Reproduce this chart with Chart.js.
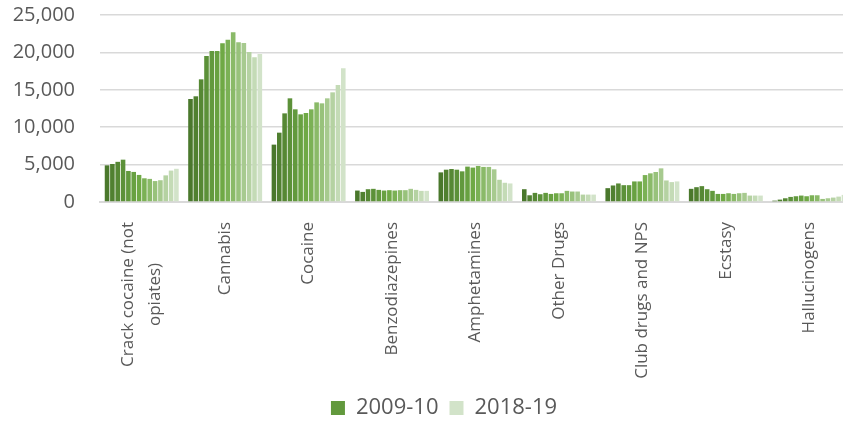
<!DOCTYPE html>
<html>
<head>
<meta charset="utf-8">
<script src="https://cdn.jsdelivr.net/npm/chart.js@4/dist/chart.umd.min.js"></script>
<style>
  html, body { margin: 0; padding: 0; background: #fff; overflow: hidden; }
  #wrap { width: 888px; height: 421px; }
</style>
</head>
<body>
<div id="wrap"><canvas id="drugs_chart"></canvas></div>
<script>
// categories along the x axis
const categories = [
  ["Crack cocaine (not", "opiates)"],
  "Cannabis",
  "Cocaine",
  "Benzodiazepines",
  "Amphetamines",
  "Other Drugs",
  "Club drugs and NPS",
  "Ecstasy",
  "Hallucinogens",
];

// one bar per year inside each category
const years = [
  "2005-06", "2006-07", "2007-08", "2008-09", "2009-10", "2010-11", "2011-12",
  "2012-13", "2013-14", "2014-15", "2015-16", "2016-17", "2017-18", "2018-19",
];

// values per category, in year order
const crackCocaine = [4900, 5080, 5370, 5660, 4150, 4020, 3620, 3170, 3090, 2800, 2910, 3560, 4200, 4440];
const cannabis = [13770, 14130, 16400, 19520, 20190, 20190, 21210, 21700, 22680, 21350, 21260, 20050, 19340, 19790];
const cocaine = [7670, 9270, 11850, 13860, 12390, 11720, 11900, 12390, 13320, 13190, 13860, 14660, 15640, 17870];
const benzodiazepines = [1530, 1350, 1710, 1760, 1620, 1530, 1580, 1530, 1580, 1580, 1760, 1620, 1490, 1490];
const amphetamines = [3960, 4320, 4410, 4320, 4100, 4730, 4600, 4820, 4690, 4690, 4370, 2970, 2570, 2480];
const otherDrugs = [1710, 900, 1220, 1040, 1220, 1080, 1170, 1170, 1490, 1400, 1400, 990, 990, 990];
const clubDrugs = [1850, 2210, 2480, 2250, 2250, 2750, 2750, 3600, 3830, 4010, 4500, 2880, 2660, 2750];
const ecstasy = [1760, 1980, 2120, 1710, 1490, 1080, 1080, 1170, 1080, 1170, 1220, 860, 860, 860];
const hallucinogens = [180, 320, 500, 680, 770, 860, 770, 900, 900, 410, 500, 590, 720, 950];

const byCategory = [crackCocaine, cannabis, cocaine, benzodiazepines, amphetamines,
  otherDrugs, clubDrugs, ecstasy, hallucinogens];

// y axis ticks
const yTicks = [0, 5000, 10000, 15000, 20000, 25000];

// only these show up in the legend
const legendYears = ["2009-10", "2018-19"];

// green shades, dark -> bright -> pale
const shade = (i, n) => {
  const dark = [74, 120, 44], mid = [112, 171, 70], pale = [210, 227, 201];
  const t = i / (n - 1);
  let a, b, f;
  if (t < 0.48) { a = dark; b = mid; f = t / 0.48; }
  else { a = mid; b = pale; f = (t - 0.48) / 0.52; }
  const c = a.map((v, k) => Math.round(v + (b[k] - v) * f));
  return "rgb(" + c.join(",") + ")";
};

const datasets = years.map((yr, i) => ({
  label: yr,
  data: byCategory.map((vals) => vals[i]),
  backgroundColor: shade(i, years.length),
  borderWidth: 0,
  categoryPercentage: 0.895,
  barPercentage: 0.86,
}));

// two-line labels: centre the lines on the category and on each other
const centreMultiLine = {
  id: "centreMultiLine",
  beforeDraw(chart) {
    const ctx = chart.ctx;
    chart.scales.x.getLabelItems().forEach((item) => {
      if (Array.isArray(item.label) && !item.shifted) {
        ctx.save();
        ctx.font = item.font.string;
        const w = Math.max(...item.label.map((l) => ctx.measureText(l).width));
        ctx.restore();
        item.options.translation[0] -= (item.label.length - 1) * item.font.lineHeight / 2;
        item.options.translation[1] += w / 2;
        item.options.textAlign = "center";
        item.shifted = true;
      }
    });
  },
};

const font = "'Open Sans', sans-serif";
const grey = "#595959";

const config = {
  type: "bar",
  data: { labels: categories, datasets: datasets },
  plugins: [centreMultiLine],
  options: {
    responsive: true,
    maintainAspectRatio: false,
    animation: false,
    layout: { padding: { top: 0, bottom: -8, left: 0, right: 0 } },
    plugins: {
      tooltip: { enabled: false },
      legend: {
        position: "bottom",
        labels: {
          filter: (item) => legendYears.includes(item.text),
          boxWidth: 14,
          boxHeight: 14,
          padding: 11,
          color: grey,
          font: { family: font, size: 22 },
        },
      },
    },
    scales: {
      x: {
        grid: { display: false },
        border: { color: "#d9d9d9", width: 2 },
        ticks: {
          color: grey,
          font: { family: font, size: 17, lineHeight: 1.55 },
          minRotation: 90,
          maxRotation: 90,
          padding: 12,
          autoSkip: false,
        },
        afterFit: (s) => { s.height = 184; },
      },
      y: {
        min: 0,
        max: 25000,
        afterBuildTicks: (s) => { s.ticks = yTicks.map((v) => ({ value: v })); },
        grid: {
          color: "#d9d9d9",
          lineWidth: 1.5,
          drawTicks: true,
          tickLength: 22,
          tickColor: "rgba(0,0,0,0)",
        },
        border: { display: false },
        ticks: {
          color: grey,
          font: { family: font, size: 20 },
          padding: 3,
          callback: (v) => v.toLocaleString("en-US"),
        },
        afterFit: (s) => { s.width = 100; },
      },
      pad: {
        position: "right",
        display: true,
        grid: { display: false },
        border: { display: false },
        ticks: { display: false },
        afterFit: (s) => { s.width = 37; },
      },
    },
  },
};

const myChart = new Chart(document.getElementById("drugs_chart"), config);
</script>
</body>
</html>
